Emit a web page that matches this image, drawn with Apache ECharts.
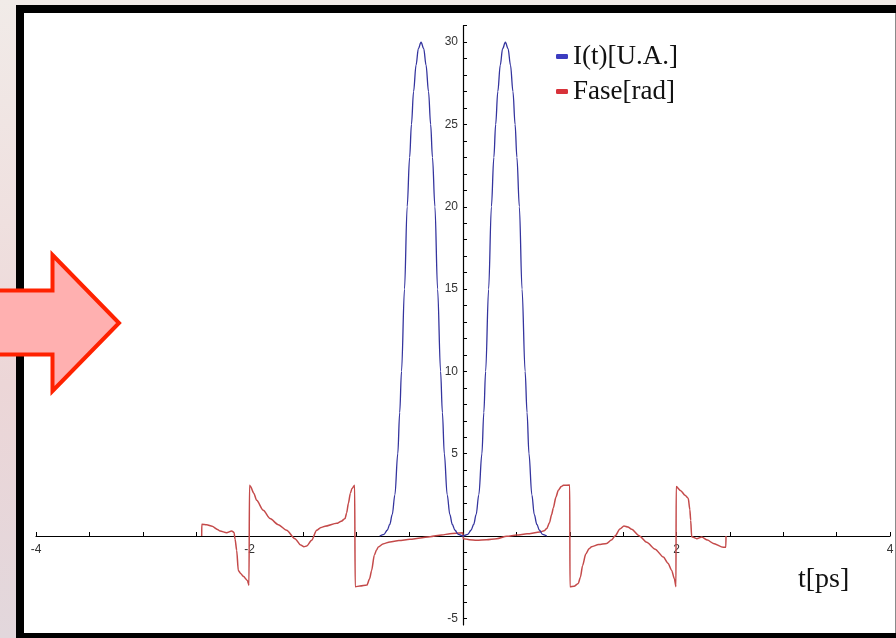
<!DOCTYPE html>
<html>
<head>
<meta charset="utf-8">
<script src="https://cdn.jsdelivr.net/npm/echarts@6/dist/echarts.min.js"></script>
<style>
  html, body { margin: 0; padding: 0; }
  body { background: linear-gradient(180deg, #f1ebe8 0%, #efe0df 35%, #ecd6d7 60%, #e2d7dc 100%); }
  #chart { width: 896px; height: 638px; }
</style>
</head>
<body>
<div id="chart"></div>
<script>
// I(t) [U.A.]
var intensityT = [-0.78, -0.74, -0.71, -0.686, -0.663, -0.638, -0.611, -0.593, -0.576, -0.548, -0.523, -0.5, -0.483, -0.463, -0.44, -0.418, -0.393,
  -0.368, -0.346, -0.323, -0.303, -0.286, -0.263, -0.238, -0.21, -0.193, -0.175, -0.148, -0.123, -0.1, -0.075, -0.045, 0,
  0.045, 0.075, 0.1, 0.123, 0.148, 0.177, 0.195, 0.212, 0.24, 0.266, 0.289, 0.306, 0.326, 0.349, 0.371, 0.397,
  0.422, 0.445, 0.468, 0.488, 0.505, 0.528, 0.553, 0.582, 0.6, 0.618, 0.645, 0.668, 0.692, 0.716, 0.745, 0.785];
var intensityV = [0, 0.1, 0.35, 0.7, 1.3, 2.5, 5, 7.5, 10, 15, 20, 23, 25, 27, 28.6, 29.6, 30,
  29.6, 28.6, 27, 25, 23, 20, 15, 10, 7.5, 5, 2.5, 1.3, 0.7, 0.35, 0.1, 0,
  0.1, 0.35, 0.7, 1.3, 2.5, 5, 7.5, 10, 15, 20, 23, 25, 27, 28.6, 29.6, 30,
  29.6, 28.6, 27, 25, 23, 20, 15, 10, 7.5, 5, 2.5, 1.3, 0.7, 0.35, 0.1, 0];

// Fase [rad]
var phaseT = [-2.448, -2.447, -2.4, -2.35, -2.3, -2.276, -2.214, -2.167, -2.145, -2.135, -2.12, -2.105, -2.08, -2.058, -2.02, -2.005,
  -2.0, -1.99, -1.96, -1.933, -1.871, -1.808, -1.73, -1.652, -1.574, -1.52, -1.49, -1.464, -1.418, -1.371, -1.33, -1.293,
  -1.183, -1.14, -1.105, -1.09, -1.074, -1.055, -1.04, -1.015, -1.01, -0.965, -0.9, -0.875, -0.856, -0.831, -0.81, -0.793,
  -0.75, -0.684, -0.6, -0.497, -0.4, -0.309, -0.2, -0.122, -0.003, 0.003, 0.06, 0.128, 0.22, 0.316, 0.41, 0.503, 0.6,
  0.721, 0.76, 0.784, 0.81, 0.83, 0.846, 0.87, 0.893, 0.92, 0.94, 1.0, 1.002, 1.04, 1.08, 1.1, 1.12, 1.15, 1.18, 1.205,
  1.27, 1.346, 1.39, 1.424, 1.47, 1.508, 1.545, 1.58, 1.65, 1.721, 1.8, 1.877, 1.92, 1.955, 1.98, 1.995, 1.997, 2.04,
  2.08, 2.11, 2.125, 2.133, 2.142, 2.19, 2.236, 2.29, 2.345, 2.438, 2.462, 2.464];
var phaseV = [0, 0.71, 0.68, 0.59, 0.4, 0.3, 0.2, 0.31, 0.22, -0.2, -0.87, -2.09, -2.3, -2.45, -2.7, -3.0,
  3.08, 3.0, 2.6, 2.17, 1.56, 1.06, 0.69, 0.35, -0.16, -0.55, -0.65, -0.61, -0.26, 0.35, 0.52, 0.59,
  0.77, 0.9, 1.06, 1.4, 1.97, 2.6, 2.88, 3.08, -3.08, -3.04, -2.98, -2.6, -2.09, -1.17, -0.85, -0.67,
  -0.48, -0.36, -0.28, -0.2, -0.12, -0.04, 0.06, 0.14, 0.2, -0.16, -0.22, -0.26, -0.22, -0.16, -0.02, 0.06, 0.13,
  0.24, 0.32, 0.45, 0.8, 1.3, 1.7, 2.35, 2.78, 3.0, 3.08, 3.1, -3.08, -3.05, -2.88, -2.5, -1.8, -1.1, -0.78, -0.65,
  -0.52, -0.45, -0.25, 0, 0.42, 0.61, 0.55, 0.41, 0.02, -0.38, -0.8, -1.28, -1.65, -2.09, -2.6, -3.08, 3.0, 2.75,
  2.47, 2.29, 1.6, 0.96, -0.04, -0.16, -0.06, -0.25, -0.45, -0.69, -0.69, 0];

var xLabelValues = [-4, -2, 2, 4];
var yTickValues = [-5, -4, -3, -2, -1, 1, 2, 3, 4, 5, 6, 7, 8, 9, 10, 11, 12, 13, 14, 15, 16, 17, 18, 19, 20,
  21, 22, 23, 24, 25, 26, 27, 28, 29, 30, 31];
var yLabelValues = [-5, 5, 10, 15, 20, 25, 30];
var seriesNames = ['I(t)[U.A.]', 'Fase[rad]'];

function pairs(xs, ys) {
  var out = [];
  for (var i = 0; i < xs.length; i++) out.push([xs[i], ys[i]]);
  return out;
}

var myChart = echarts.init(document.getElementById('chart'));

// the axes cross at the origin: shift them from the grid edges
var gridLeft = 36, gridTop = 25.7, gridW = 854, gridH = 599.2;
var xMin = -4, xMax = 4, yMin = -5.4, yMax = 31;
var xZeroShift = -(0 - yMin) / (yMax - yMin) * gridH;
var yZeroShift = -(0 - xMin) / (xMax - xMin) * gridW;

var option = {
  backgroundColor: 'transparent',
  animation: false,
  grid: { left: gridLeft, top: gridTop, width: gridW, height: gridH, outerBoundsMode: 'none', containLabel: false },
  legend: {
    orient: 'vertical',
    left: 551,
    top: 38,
    itemWidth: 12,
    itemHeight: 5,
    itemGap: 8,
    icon: 'roundRect',
    data: seriesNames,
    textStyle: { fontFamily: 'Liberation Serif', fontSize: 27, color: '#111' }
  },
  xAxis: {
    type: 'value',
    min: xMin,
    max: xMax,
    interval: 0.5,
    offset: xZeroShift,
    splitLine: { show: false },
    axisLine: { onZero: false, lineStyle: { color: '#000', width: 1.2 } },
    axisTick: { inside: true, length: 4, lineStyle: { color: '#000' } },
    axisLabel: {
      showMinLabel: true,
      showMaxLabel: true,
      margin: 8,
      fontFamily: 'Liberation Sans',
      fontSize: 12,
      color: '#333',
      formatter: function (v) { return xLabelValues.indexOf(v) >= 0 ? String(v) : ''; }
    }
  },
  yAxis: {
    type: 'value',
    min: yMin,
    max: yMax,
    offset: yZeroShift,
    splitLine: { show: false },
    axisLine: { onZero: false, lineStyle: { color: '#000', width: 1.2 } },
    axisTick: { inside: true, length: 4, customValues: yTickValues, lineStyle: { color: '#000' } },
    axisLabel: {
      customValues: yLabelValues,
      margin: 5,
      fontFamily: 'Liberation Sans',
      fontSize: 12,
      color: '#333'
    }
  },
  series: [
    {
      name: seriesNames[1],
      type: 'line',
      showSymbol: false,
      smooth: 0.25,
      smoothMonotone: 'x',
      color: '#d8323a',
      lineStyle: { color: '#c44a4a', width: 1.5 },
      data: pairs(phaseT, phaseV),
      z: 3
    },
    {
      name: seriesNames[0],
      type: 'line',
      showSymbol: false,
      smooth: 0.35,
      smoothMonotone: 'x',
      color: '#3c3cc0',
      lineStyle: { color: '#34349e', width: 1.3 },
      data: pairs(intensityT, intensityV),
      z: 4
    }
  ],
  graphic: [
    {
      type: 'rect',
      z: -10,
      shape: { x: 20, y: 9, width: 880, height: 628 },
      style: { fill: '#ffffff', stroke: '#000000', lineWidth: 8 }
    },
    {
      type: 'line',
      z: 50,
      shape: { x1: 895.5, y1: 13, x2: 895.5, y2: 633 },
      style: { stroke: '#8a8a8a', lineWidth: 1 }
    },
    {
      type: 'text',
      z: 50,
      style: {
        text: 't[ps]',
        x: 798,
        y: 580,
        verticalAlign: 'middle',
        font: '28px "Liberation Serif"',
        fill: '#111'
      }
    },
    {
      type: 'polygon',
      z: 100,
      shape: { points: [[-6, 290.5], [52.5, 290.5], [52.5, 255], [119, 323], [52.5, 391], [52.5, 354.5], [-6, 354.5]] },
      style: { fill: '#ffb0b0', stroke: '#ff2200', lineWidth: 4, lineJoin: 'miter' }
    }
  ]
};

myChart.setOption(option);
</script>
</body>
</html>
